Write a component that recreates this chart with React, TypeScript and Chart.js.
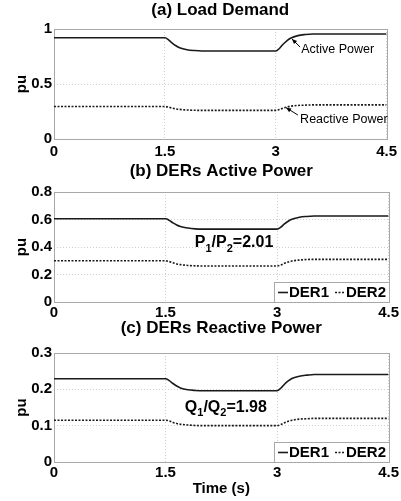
import React, { useEffect, useRef } from "react";
import { Chart, registerables } from "chart.js";

Chart.register(...registerables);

const FONT = "'Liberation Sans', Arial, Helvetica, sans-serif";

// time axis (s)
const TIME = [0, 1.5, 1.55, 1.6, 1.65, 1.7, 1.8, 1.9, 2.0, 3.0, 3.05, 3.1, 3.15, 3.2, 3.3, 3.4, 3.5, 4.5];
const X_TICKS = [0, 1.5, 3, 4.5];

// (a) Load demand
const LOAD_ACTIVE = [0.92, 0.92, 0.902, 0.872, 0.848, 0.83, 0.812, 0.804, 0.8, 0.8, 0.823, 0.862, 0.893, 0.916, 0.94, 0.95, 0.955, 0.955];
const LOAD_REACTIVE = [0.295, 0.295, 0.29, 0.281, 0.274, 0.269, 0.264, 0.261, 0.26, 0.26, 0.268, 0.28, 0.29, 0.298, 0.305, 0.308, 0.31, 0.31];

// (b) DERs active power
const DER1_P = [0.605, 0.605, 0.594, 0.575, 0.56, 0.549, 0.538, 0.532, 0.53, 0.53, 0.544, 0.568, 0.587, 0.601, 0.616, 0.622, 0.625, 0.625];
const DER2_P = [0.3, 0.3, 0.294, 0.285, 0.277, 0.272, 0.266, 0.263, 0.262, 0.262, 0.269, 0.281, 0.291, 0.298, 0.305, 0.309, 0.31, 0.31];

// (c) DERs reactive power
const DER1_Q = [0.229, 0.229, 0.224, 0.216, 0.209, 0.204, 0.199, 0.197, 0.196, 0.196, 0.203, 0.214, 0.223, 0.23, 0.236, 0.239, 0.241, 0.241];
const DER2_Q = [0.115, 0.115, 0.113, 0.109, 0.106, 0.104, 0.102, 0.1005, 0.1, 0.1, 0.103, 0.108, 0.112, 0.115, 0.118, 0.119, 0.12, 0.12];

type Part = { t: string; sub?: boolean };
type Note = {
  x: number;
  y: number;
  parts: Part[];
  bold: boolean;
  size: number;
  arrow?: { x1: number; y1: number; x2: number; y2: number };
};

type Series = { label: string; data: number[]; dash: number[] };

type PanelCfg = {
  title: string;
  top: number;
  height: number;
  titlePad: { top: number; bottom: number };
  xHeight: number;
  xPad: number;
  xTitle?: string;
  yMax: number;
  yStep: number;
  series: Series[];
  legend: boolean;
  notes: Note[];
};

const SOLID: number[] = [];
const DOTTED = [2, 1.5];

const PANELS: PanelCfg[] = [
  {
    title: "(a) Load Demand",
    top: 0,
    height: 160,
    titlePad: { top: 1.5, bottom: 10.5 },
    xHeight: 21,
    xPad: 4,
    yMax: 1,
    yStep: 0.5,
    series: [
      { label: "Active Power", data: LOAD_ACTIVE, dash: SOLID },
      { label: "Reactive Power", data: LOAD_REACTIVE, dash: DOTTED },
    ],
    legend: false,
    notes: [
      { x: 3.345, y: 0.81, parts: [{ t: "Active Power" }], bold: false, size: 12.5, arrow: { x1: 3.33, y1: 0.836, x2: 3.22, y2: 0.909 } },
      { x: 3.33, y: 0.173, parts: [{ t: "Reactive Power" }], bold: false, size: 12.5, arrow: { x1: 3.3, y1: 0.218, x2: 3.14, y2: 0.285 } },
    ],
  },
  {
    title: "(b) DERs Active Power",
    top: 160,
    height: 160,
    titlePad: { top: 3, bottom: 12 },
    xHeight: 18,
    xPad: 2,
    yMax: 0.8,
    yStep: 0.2,
    series: [
      { label: "DER1", data: DER1_P, dash: SOLID },
      { label: "DER2", data: DER2_P, dash: DOTTED },
    ],
    legend: true,
    notes: [
      { x: 1.894, y: 0.429, parts: [{ t: "P" }, { t: "1", sub: true }, { t: "/P" }, { t: "2", sub: true }, { t: "=2.01" }], bold: true, size: 16 },
    ],
  },
  {
    title: "(c) DERs Reactive Power",
    top: 320,
    height: 181,
    titlePad: { top: 0, bottom: 16 },
    xHeight: 39,
    xPad: 2,
    xTitle: "Time (s)",
    yMax: 0.3,
    yStep: 0.1,
    series: [
      { label: "DER1", data: DER1_Q, dash: SOLID },
      { label: "DER2", data: DER2_Q, dash: DOTTED },
    ],
    legend: true,
    notes: [
      { x: 1.76, y: 0.149, parts: [{ t: "Q" }, { t: "1", sub: true }, { t: "/Q" }, { t: "2", sub: true }, { t: "=1.98" }], bold: true, size: 16 },
    ],
  },
];

const framePlugin = {
  id: "frameBox",
  beforeDatasetsDraw(chart: any) {
    const { ctx, chartArea } = chart;
    ctx.save();
    ctx.strokeStyle = "#a8a8a8";
    ctx.lineWidth = 1;
    ctx.setLineDash([]);
    ctx.strokeRect(
      Math.round(chartArea.left) + 0.5,
      Math.round(chartArea.top) + 0.5,
      Math.round(chartArea.right) - Math.round(chartArea.left),
      Math.round(chartArea.bottom) - Math.round(chartArea.top)
    );
    ctx.restore();
  },
};

function makeNotesPlugin(cfg: PanelCfg) {
  return {
    id: "notesAndLegend",
    afterDatasetsDraw(chart: any) {
      const { ctx, chartArea, scales } = chart;
      const xs = scales.x;
      const ys = scales.y;
      ctx.save();
      ctx.fillStyle = "#000";
      ctx.strokeStyle = "#000";
      // notes
      cfg.notes.forEach((n) => {
        const px = xs.getPixelForValue(n.x);
        const py = ys.getPixelForValue(n.y);
        let cx = px;
        ctx.textBaseline = "middle";
        ctx.textAlign = "left";
        n.parts.forEach((p) => {
          const size = p.sub ? Math.round(n.size * 0.7) : n.size;
          ctx.font = `${n.bold ? "bold " : ""}${size}px ${FONT}`;
          const dy = p.sub ? n.size * 0.35 : 0;
          ctx.fillText(p.t, cx, py + dy);
          cx += ctx.measureText(p.t).width;
        });
        if (n.arrow) {
          const x1 = xs.getPixelForValue(n.arrow.x1);
          const y1 = ys.getPixelForValue(n.arrow.y1);
          const x2 = xs.getPixelForValue(n.arrow.x2);
          const y2 = ys.getPixelForValue(n.arrow.y2);
          ctx.lineWidth = 1;
          ctx.setLineDash([]);
          ctx.beginPath();
          ctx.moveTo(x1, y1);
          ctx.lineTo(x2, y2);
          ctx.stroke();
          const ang = Math.atan2(y2 - y1, x2 - x1);
          const L = 5;
          const W = 2.2;
          ctx.beginPath();
          ctx.moveTo(x2, y2);
          ctx.lineTo(x2 - L * Math.cos(ang) + W * Math.sin(ang), y2 - L * Math.sin(ang) - W * Math.cos(ang));
          ctx.lineTo(x2 - L * Math.cos(ang) - W * Math.sin(ang), y2 - L * Math.sin(ang) + W * Math.cos(ang));
          ctx.closePath();
          ctx.fill();
        }
      });
      // legend box (bottom-right, inside plot)
      if (cfg.legend) {
        const ds = chart.data.datasets;
        ctx.font = `bold 15px ${FONT}`;
        const sample = 10;
        const padL = 4;
        const padR = 3;
        const gap = 6;
        let w = padL + padR;
        ds.forEach((d: any, i: number) => {
          w += sample + 1 + ctx.measureText(d.label).width + (i > 0 ? gap : 0);
        });
        const h = 20;
        const right = Math.round(chartArea.right);
        const bottom = Math.round(chartArea.bottom);
        const left = right - Math.round(w);
        const top = bottom - h;
        ctx.fillStyle = "#fff";
        ctx.fillRect(left, top, right - left, h);
        ctx.strokeStyle = "#a8a8a8";
        ctx.lineWidth = 1;
        ctx.setLineDash([]);
        ctx.strokeRect(left + 0.5, top + 0.5, right - left, h);
        let cx = left + padL;
        const cy = top + h / 2 + 0.5;
        ds.forEach((d: any, i: number) => {
          if (i > 0) cx += gap;
          ctx.strokeStyle = d.borderColor;
          ctx.lineWidth = d.borderWidth;
          ctx.setLineDash(d.borderDash || []);
          ctx.beginPath();
          ctx.moveTo(cx, cy);
          ctx.lineTo(cx + sample, cy);
          ctx.stroke();
          cx += sample + 1;
          ctx.fillStyle = "#000";
          ctx.textAlign = "left";
          ctx.textBaseline = "middle";
          ctx.fillText(d.label, cx, cy);
          cx += ctx.measureText(d.label).width;
        });
      }
      ctx.restore();
    },
  };
}

const fmt = (v: any) => String(Number(Number(v).toFixed(3)));

function Panel({ cfg }: { cfg: PanelCfg }) {
  const ref = useRef<HTMLCanvasElement | null>(null);
  useEffect(() => {
    if (!ref.current) return;
    const tickFont = { family: FONT, size: 15, weight: "bold" as const };
    const chart = new Chart(ref.current, {
      type: "line",
      data: {
        datasets: cfg.series.map((s) => ({
          label: s.label,
          data: TIME.map((t, i) => ({ x: t, y: s.data[i] })),
          borderColor: "#1a1a1a",
          borderWidth: 1.6,
          borderDash: s.dash,
          pointRadius: 0,
          fill: false,
          cubicInterpolationMode: "monotone" as const,
        })),
      },
      options: {
        responsive: false,
        animation: false,
        devicePixelRatio: 1,
        layout: { padding: { left: 0, right: 12, top: 0, bottom: 0 } },
        plugins: {
          legend: { display: false },
          tooltip: { enabled: false },
          title: {
            display: true,
            fullSize: false,
            text: cfg.title,
            color: "#000",
            font: { family: FONT, size: 17, weight: "bold", lineHeight: 1 },
            padding: cfg.titlePad,
          },
        },
        scales: {
          x: {
            type: "linear",
            min: 0,
            max: 4.5,
            afterFit: (s: any) => {
              s.height = cfg.xHeight;
            },
            afterBuildTicks: (s: any) => {
              s.ticks = X_TICKS.map((v) => ({ value: v }));
            },
            ticks: {
              color: "#000",
              font: tickFont,
              padding: cfg.xPad,
              maxRotation: 0,
              autoSkip: false,
              callback: fmt,
            },
            grid: { color: "#cfcfcf", lineWidth: 1, drawTicks: false },
            border: { display: false, dash: [1, 2] },
            title: cfg.xTitle
              ? {
                  display: true,
                  text: cfg.xTitle,
                  color: "#000",
                  font: { family: FONT, size: 15, weight: "bold", lineHeight: 1.2 },
                  padding: { top: 0, bottom: 3 },
                }
              : { display: false },
          },
          y: {
            type: "linear",
            min: 0,
            max: cfg.yMax,
            afterFit: (s: any) => {
              s.width = 54;
            },
            ticks: {
              stepSize: cfg.yStep,
              color: "#000",
              font: tickFont,
              padding: 2,
              callback: fmt,
            },
            grid: { color: "#cfcfcf", lineWidth: 1, drawTicks: false },
            border: { display: false, dash: [1, 2] },
            title: {
              display: true,
              text: "pu",
              color: "#000",
              font: { family: FONT, size: 15, weight: "bold", lineHeight: 1.2 },
              padding: { top: 13, bottom: 0 },
            },
          },
        },
      },
      plugins: [framePlugin, makeNotesPlugin(cfg)],
    } as any);
    return () => chart.destroy();
  }, [cfg]);
  return (
    <canvas
      ref={ref}
      width={401}
      height={cfg.height}
      style={{ position: "absolute", left: 0, top: cfg.top, display: "block" }}
    />
  );
}

export default function App() {
  return (
    <div
      style={{
        position: "absolute",
        left: 0,
        top: 0,
        width: 401,
        height: 501,
        background: "#fff",
        overflow: "hidden",
      }}
    >
      {PANELS.map((p, i) => (
        <Panel key={i} cfg={p} />
      ))}
    </div>
  );
}
